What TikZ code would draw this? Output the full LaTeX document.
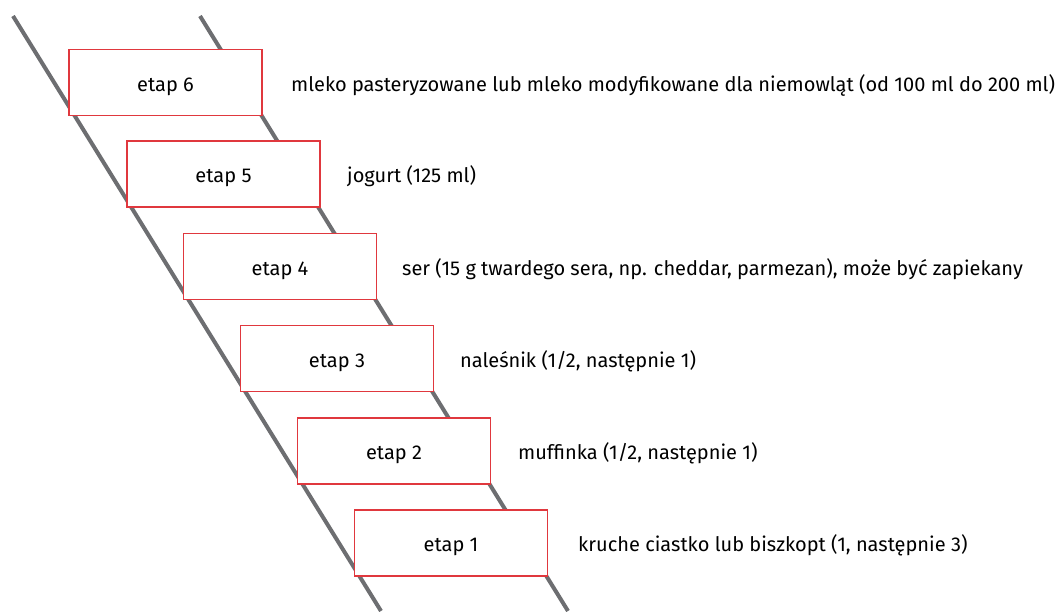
\documentclass[tikz,border=0pt]{standalone}
\usepackage{fontspec}
\setmainfont{Fira Sans}
\begin{document}
\begin{tikzpicture}[x=1pt,y=-1pt,
  txt/.style={font=\fontsize{20}{22}\selectfont,text height=17pt,text depth=0pt},
  rail/.style={draw=railgray,line width=4pt},
  stepbox/.style={txt,draw=boxred,fill=white,line width=1.2pt,minimum width=193pt,minimum height=66pt,inner sep=0pt},
  lbl/.style={txt,anchor=west,inner sep=0pt}]
\definecolor{railgray}{HTML}{6D6E71}
\definecolor{boxred}{HTML}{E0383E}
\useasboundingbox (0,0) rectangle (1058,611);
\coordinate (l0) at (13,16);
\coordinate (l1) at (381,611);
\coordinate (r0) at (200,16);
\coordinate (r1) at (568,611);
\draw[rail] (l0) -- (l1);
\draw[rail] (r0) -- (r1);
\node[stepbox] (e6) at (165.5,82.5) {etap 6};
\node[stepbox] (e5) at (223.5,174) {etap 5};
\node[stepbox] (e4) at (280,266.5) {etap 4};
\node[stepbox] (e3) at (337,358.5) {etap 3};
\node[stepbox] (e2) at (394,451) {etap 2};
\node[stepbox] (e1) at (451,543) {etap 1};
\node[lbl] (t6) at (291,82.5) {mleko pasteryzowane lub mleko modyfikowane dla niemowląt (od 100 ml do 200 ml)};
\node[lbl] (t5) at (347,174) {jogurt (125 ml)};
\node[lbl] (t4) at (402,266.5) {ser (15 g twardego sera, np. cheddar, parmezan), może być zapiekany};
\node[lbl] (t3) at (460,358.5) {naleśnik (1/2, następnie 1)};
\node[lbl] (t2) at (518,451) {muffinka (1/2, następnie 1)};
\node[lbl] (t1) at (578,543) {kruche ciastko lub biszkopt (1, następnie 3)};
\end{tikzpicture}
\end{document}
